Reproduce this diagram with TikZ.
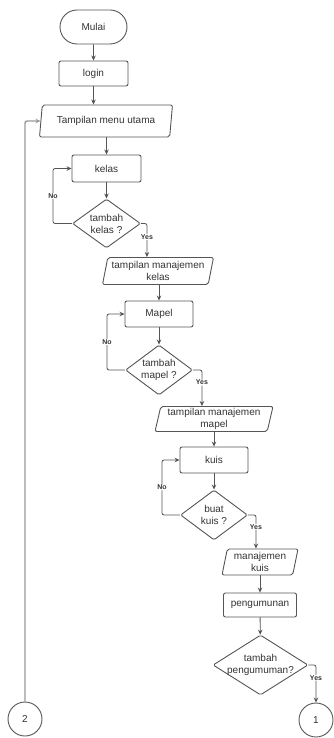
\documentclass[tikz,border=0pt]{standalone}
\usepackage{fontspec}
\setmainfont{Liberation Sans}
\usetikzlibrary{shapes.geometric,shapes.misc,arrows.meta}
\definecolor{edge}{HTML}{555555}
\definecolor{txt}{HTML}{333333}
\definecolor{back}{HTML}{9A9A9A}
\begin{document}
\begin{tikzpicture}[x=1pt,y=-1pt,
  font=\fontsize{10}{12}\selectfont, text=txt,
  base/.style={draw=edge, line width=0.9pt, inner sep=1pt, align=center},
  term/.style={base, rounded rectangle, minimum width=69pt, minimum height=34pt},
  proc/.style={base, rectangle, rounded corners=2pt},
  io/.style={base, trapezium, trapezium left angle=76, trapezium right angle=104,
    trapezium stretches body, rounded corners=2pt},
  dec/.style={base, diamond, inner sep=0pt, rounded corners=1.5pt},
  conn/.style={base, circle, minimum size=34pt},
  arr/.style={draw=edge, line width=0.8pt, rounded corners=2pt, -{Stealth[length=5pt,width=4.5pt]}},
  backarr/.style={draw=back, line width=1.4pt, rounded corners=2pt, -{Stealth[length=5pt,width=4.5pt]}},
  lbl/.style={font=\fontsize{7}{8}\selectfont\bfseries, fill=white, inner sep=0.5pt, text=txt}
]
\useasboundingbox (0,0) rectangle (334,738);

% nodes
\node[term] (mulai) at (93.5,27) {Mulai};
\node[proc, minimum width=69pt, minimum height=25pt] (login) at (93.5,73.5) {login};
\node[io, minimum width=133pt, minimum height=32pt] (menu) at (106,121) {Tampilan menu utama};
\node[proc, minimum width=69pt, minimum height=27pt] (kelas) at (106.5,168.5) {kelas};
\node[dec, minimum width=68pt, minimum height=49pt] (dk) at (106.5,223.5) {};
\node[align=center] (dkt) at (dk.center) {tambah\\kelas ?};
\node[io, minimum width=111pt, minimum height=27pt] (tmk) at (158,271) {tampilan manajemen\\kelas};
\node[proc, minimum width=68pt, minimum height=26pt] (mapel) at (159,314) {Mapel};
\node[dec, minimum width=67pt, minimum height=50pt] (dm) at (159,370) {};
\node[align=center] (dmt) at (dm.center) {tambah\\mapel ?};
\node[io, minimum width=118pt, minimum height=25pt] (tmm) at (214,419) {tampilan manajemen\\mapel};
\node[proc, minimum width=68pt, minimum height=26pt] (kuis) at (214,460) {kuis};
\node[dec, minimum width=67pt, minimum height=50pt] (dq) at (214,515) {};
\node[align=center] (dqt) at (dq.center) {buat\\kuis ?};
\node[io, minimum width=76pt, minimum height=26pt] (mkuis) at (260,562) {manajemen\\kuis};
\node[proc, minimum width=73pt, minimum height=24pt] (peng) at (260,605) {pengumunan};
\node[dec, minimum width=95pt, minimum height=60pt] (dp) at (260.5,665) {};
\node[align=center] (dpt) at (dp.center) {tambah\\pengumuman?};
\node[conn] (c1) at (316,720) {1};
\node[conn] (c2) at (25,719) {2};

% main flow
\draw[arr] (mulai) -- (login);
\draw[arr] (login.south) -- (login.south |- menu.north);
\draw[arr] (menu.south -| kelas.north) -- (kelas.north);
\draw[arr] (kelas) -- (dk);
\draw[arr] (tmk.south -| mapel.north) -- (mapel.north);
\draw[arr] (mapel) -- (dm);
\draw[arr] (tmm.south -| kuis.north) -- (kuis.north);
\draw[arr] (kuis) -- (dq);
\draw[arr] (mkuis.south -| peng.north) -- (peng.north);
\draw[arr] (peng) -- (dp);

% No loops
\path (dk.west) ++(-19,0) coordinate (dkN);
\draw[arr] (dk.west) -- (dkN) |- node[lbl, pos=0.25] {No} (kelas.west);
\path (dm.west) ++(-18,0) coordinate (dmN);
\draw[arr] (dm.west) -- (dmN) |- node[lbl, pos=0.25] {No} (mapel.west);
\path (dq.west) ++(-18,0) coordinate (dqN);
\draw[arr] (dq.west) -- (dqN) |- node[lbl, pos=0.25] {No} (kuis.west);

% Yes branches
\path (dk.east) ++(6,0) coordinate (dkY);
\draw[arr] (dk.east) -- (dkY) -- node[lbl, pos=0.4] {Yes} (dkY |- tmk.north);
\path (dm.east) ++(9,0) coordinate (dmY);
\draw[arr] (dm.east) -- (dmY) -- node[lbl, pos=0.35] {Yes} (dmY |- tmm.north);
\path (dq.east) ++(8,0) coordinate (dqY);
\draw[arr] (dq.east) -- (dqY) -- node[lbl, pos=0.35] {Yes} (dqY |- mkuis.north);
\draw[arr] (dp.east) -| node[lbl, pos=0.67] {Yes} (c1.north);

% back connector
\draw[backarr] (c2.north) |- (menu.west);
\end{tikzpicture}
\end{document}
